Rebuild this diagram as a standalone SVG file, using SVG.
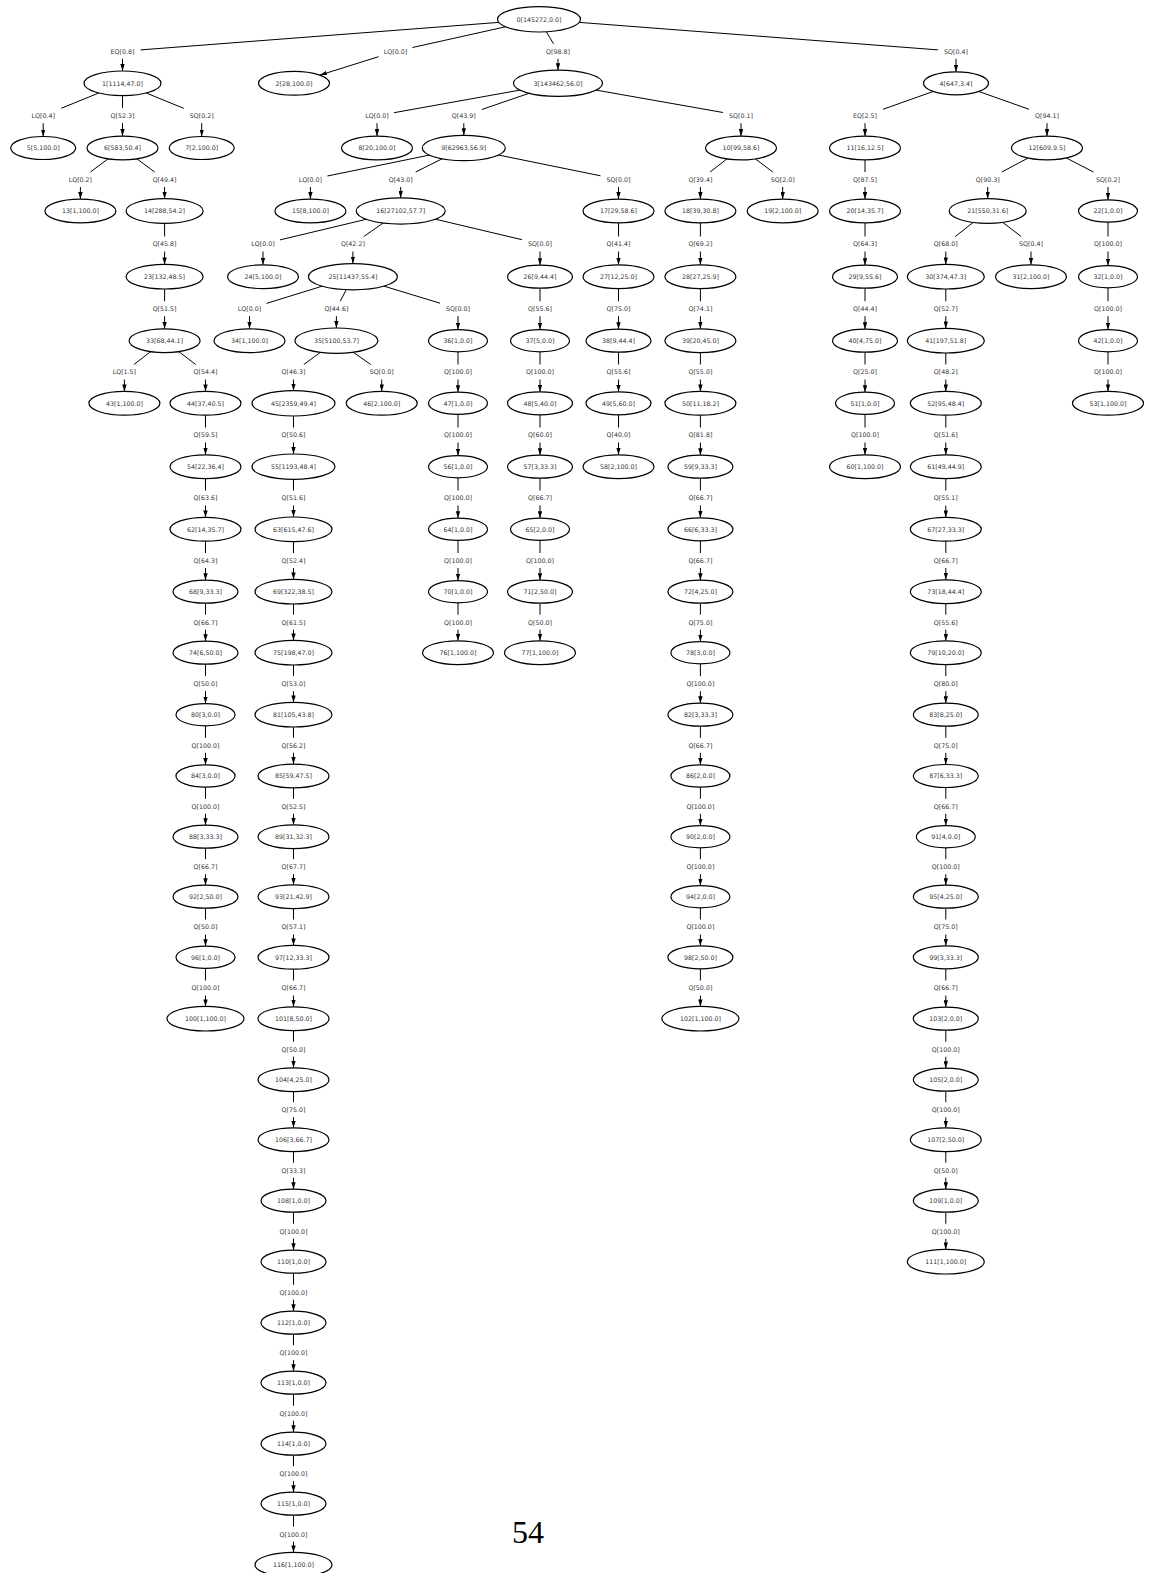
<svg xmlns="http://www.w3.org/2000/svg" width="1152" height="1573" viewBox="0 0 1152 1573">
<style>
.n ellipse{fill:#fff;stroke:#000;stroke-width:1.2}
.n text,.e text{font-family:"DejaVu Sans",sans-serif;font-size:6.3px;fill:#333;text-anchor:middle}
.e path{fill:none;stroke:#000;stroke-width:1;marker-end:url(#ah)}
.pg{font-family:"Liberation Serif","Times New Roman",serif;font-size:32px;fill:#000;text-anchor:middle}
</style>
<defs>
<marker id="ah" markerWidth="7" markerHeight="4.4" refX="7" refY="2.2" orient="auto" markerUnits="userSpaceOnUse"><path d="M0,0 L7,2.2 L0,4.4 z" fill="#000" stroke="none"/></marker>
</defs>
<rect width="1152" height="1573" fill="#fff"/>
<g id="edges" class="e">
<g id="e0-1"><path d="M498.75,22.4 L140.5,49.9 M122.5,58.8 V71"/><text x="122.5" y="53.6">EQ[0.8]</text></g>
<g id="e0-2"><path d="M505.5,26.8 L412.5,47.5 M378.5,56.7 L319.9,75.1"/><text x="395.5" y="53.6">LQ[0.0]</text></g>
<g id="e0-3"><path d="M546.4,31.8 L553.5,43.8 M558,58.8 V70.2"/><text x="558" y="53.6">Q[98.8]</text></g>
<g id="e0-4"><path d="M579.3,22.4 L938,49.9 M956,58.8 V71.8"/><text x="956" y="53.6">SQ[0.4]</text></g>
<g id="e1-5"><path d="M98.8,93 L61.2,108.3 M43.2,123.2 V136.5"/><text x="43.2" y="118">LQ[0.4]</text></g>
<g id="e1-6"><path d="M122.5,95.6 V108.2 M122.5,123.2 V136.1"/><text x="122.5" y="118">Q[52.3]</text></g>
<g id="e1-7"><path d="M146.2,93 L183.7,108.3 M201.7,123.2 V136.5"/><text x="201.7" y="118">SQ[0.2]</text></g>
<g id="e3-8"><path d="M520,90.1 L394,112.7 M377,123.2 V136.1"/><text x="377" y="118">LQ[0.0]</text></g>
<g id="e3-9"><path d="M529.1,93.3 L481.8,109.5 M463.8,123.2 V135.3"/><text x="463.8" y="118">Q[43.9]</text></g>
<g id="e3-10"><path d="M596.1,90.1 L723,112.5 M741,123.2 V136.1"/><text x="741" y="118">SQ[0.1]</text></g>
<g id="e4-11"><path d="M933.1,91.5 L883,109.3 M865,123.2 V136.1"/><text x="865" y="118">EQ[2.5]</text></g>
<g id="e4-12"><path d="M978.9,91.5 L1029,109.3 M1047,123.2 V136.1"/><text x="1047" y="118">Q[94.1]</text></g>
<g id="e6-13"><path d="M108,158.9 L90.4,172 M80.4,187 V199.1"/><text x="80.4" y="181.8">LQ[0.2]</text></g>
<g id="e6-14"><path d="M137,158.9 L154.6,172 M164.6,187 V198.7"/><text x="164.6" y="181.8">Q[49.4]</text></g>
<g id="e9-15"><path d="M429.3,155.1 L327.4,176 M310.4,187 V199.1"/><text x="310.4" y="181.8">LQ[0.0]</text></g>
<g id="e9-16"><path d="M442.1,158.8 L415.7,172 M400.7,187 V197.9"/><text x="400.7" y="181.8">Q[43.0]</text></g>
<g id="e9-17"><path d="M498.4,155 L600.5,175.8 M618.5,187 V199.1"/><text x="618.5" y="181.8">SQ[0.0]</text></g>
<g id="e10-18"><path d="M726.9,158.9 L710.1,172 M700.4,187 V199.1"/><text x="700.4" y="181.8">Q[39.4]</text></g>
<g id="e10-19"><path d="M755.4,158.9 L772.8,172 M782.7,187 V199.1"/><text x="782.7" y="181.8">SQ[2.0]</text></g>
<g id="e11-20"><path d="M865,159.9 V172 M865,187 V199.1"/><text x="865" y="181.8">Q[87.5]</text></g>
<g id="e12-21"><path d="M1028,158.1 L1001.8,172 M987.7,187 V198.7"/><text x="987.7" y="181.8">Q[90.3]</text></g>
<g id="e12-22"><path d="M1066.3,158 L1093.5,172 M1108,187 V199.9"/><text x="1108" y="181.8">SQ[0.2]</text></g>
<g id="e14-23"><path d="M164.6,223.3 V236.5 M164.6,251.5 V264.4"/><text x="164.6" y="246.3">Q[45.8]</text></g>
<g id="e16-24"><path d="M366.2,219.3 L280,239.9 M263,251.5 V264.8"/><text x="263" y="246.3">LQ[0.0]</text></g>
<g id="e16-25"><path d="M383.2,223 L363.8,236.5 M352.9,251.5 V263.6"/><text x="352.9" y="246.3">Q[42.2]</text></g>
<g id="e16-26"><path d="M435.4,219.2 L522,239.7 M540,251.5 V265.2"/><text x="540" y="246.3">SQ[0.0]</text></g>
<g id="e17-27"><path d="M618.5,222.9 V236.5 M618.5,251.5 V264.8"/><text x="618.5" y="246.3">Q[41.4]</text></g>
<g id="e18-28"><path d="M700.4,222.9 V236.5 M700.4,251.5 V264.8"/><text x="700.4" y="246.3">Q[69.2]</text></g>
<g id="e20-29"><path d="M865,222.9 V236.5 M865,251.5 V265.2"/><text x="865" y="246.3">Q[64.3]</text></g>
<g id="e21-30"><path d="M973.2,222.4 L955.3,236.5 M945.8,251.5 V264.4"/><text x="945.8" y="246.3">Q[68.0]</text></g>
<g id="e21-31"><path d="M1002.6,222.3 L1021.2,236.5 M1031,251.5 V264.8"/><text x="1031" y="246.3">SQ[0.4]</text></g>
<g id="e22-32"><path d="M1108,222.1 V236.5 M1108,251.5 V265.6"/><text x="1108" y="246.3">Q[100.0]</text></g>
<g id="e23-33"><path d="M164.6,289 V301.2 M164.6,316.2 V328.8"/><text x="164.6" y="311">Q[51.5]</text></g>
<g id="e25-34"><path d="M322.2,286.2 L266.5,303.4 M249.5,316.2 V328.8"/><text x="249.5" y="311">LQ[0.0]</text></g>
<g id="e25-35"><path d="M346.2,289.7 L340.3,301.2 M336.4,316.2 V328"/><text x="336.4" y="311">Q[44.6]</text></g>
<g id="e25-36"><path d="M383.8,286.1 L440,303.2 M458,316.2 V329.6"/><text x="458" y="311">SQ[0.0]</text></g>
<g id="e26-37"><path d="M540,288.2 V301.2 M540,316.2 V329.6"/><text x="540" y="311">Q[55.6]</text></g>
<g id="e27-38"><path d="M618.5,288.6 V301.2 M618.5,316.2 V329.2"/><text x="618.5" y="311">Q[75.0]</text></g>
<g id="e28-39"><path d="M700.4,288.6 V301.2 M700.4,316.2 V328.8"/><text x="700.4" y="311">Q[74.1]</text></g>
<g id="e29-40"><path d="M865,288.2 V301.2 M865,316.2 V329.2"/><text x="865" y="311">Q[44.4]</text></g>
<g id="e30-41"><path d="M945.8,289 V301.2 M945.8,316.2 V328.4"/><text x="945.8" y="311">Q[52.7]</text></g>
<g id="e32-42"><path d="M1108,287.8 V301.2 M1108,316.2 V329.6"/><text x="1108" y="311">Q[100.0]</text></g>
<g id="e33-43"><path d="M150.6,351.6 L134,364.5 M124.4,379.5 V391.4"/><text x="124.4" y="374.3">LQ[1.5]</text></g>
<g id="e33-44"><path d="M178.8,351.6 L195.7,364.5 M205.5,379.5 V391.4"/><text x="205.5" y="374.3">Q[54.4]</text></g>
<g id="e35-45"><path d="M320.3,352.4 L303.8,364.5 M293.5,379.5 V390.6"/><text x="293.5" y="374.3">Q[46.3]</text></g>
<g id="e35-46"><path d="M353.2,352.3 L370.8,364.5 M381.7,379.5 V391.4"/><text x="381.7" y="374.3">SQ[0.0]</text></g>
<g id="e36-47"><path d="M458,351.8 V364.5 M458,379.5 V392.2"/><text x="458" y="374.3">Q[100.0]</text></g>
<g id="e37-48"><path d="M540,351.8 V364.5 M540,379.5 V391.8"/><text x="540" y="374.3">Q[100.0]</text></g>
<g id="e38-49"><path d="M618.5,352.2 V364.5 M618.5,379.5 V391.8"/><text x="618.5" y="374.3">Q[55.6]</text></g>
<g id="e39-50"><path d="M700.4,352.6 V364.5 M700.4,379.5 V391.4"/><text x="700.4" y="374.3">Q[55.0]</text></g>
<g id="e40-51"><path d="M865,352.2 V364.5 M865,379.5 V392.2"/><text x="865" y="374.3">Q[25.0]</text></g>
<g id="e41-52"><path d="M945.8,353 V364.5 M945.8,379.5 V391.4"/><text x="945.8" y="374.3">Q[48.2]</text></g>
<g id="e42-53"><path d="M1108,351.8 V364.5 M1108,379.5 V391.4"/><text x="1108" y="374.3">Q[100.0]</text></g>
<g id="e44-54"><path d="M205.5,415.2 V427.5 M205.5,442.5 V454.8"/><text x="205.5" y="437.3">Q[59.5]</text></g>
<g id="e45-55"><path d="M293.5,416 V427.5 M293.5,442.5 V454"/><text x="293.5" y="437.3">Q[50.6]</text></g>
<g id="e47-56"><path d="M458,414.4 V427.5 M458,442.5 V455.6"/><text x="458" y="437.3">Q[100.0]</text></g>
<g id="e48-57"><path d="M540,414.8 V427.5 M540,442.5 V455.2"/><text x="540" y="437.3">Q[60.0]</text></g>
<g id="e49-58"><path d="M618.5,414.8 V427.5 M618.5,442.5 V454.8"/><text x="618.5" y="437.3">Q[40.0]</text></g>
<g id="e50-59"><path d="M700.4,415.2 V427.5 M700.4,442.5 V455.2"/><text x="700.4" y="437.3">Q[81.8]</text></g>
<g id="e51-60"><path d="M865,414.4 V427.5 M865,442.5 V454.8"/><text x="865" y="437.3">Q[100.0]</text></g>
<g id="e52-61"><path d="M945.8,415.2 V427.5 M945.8,442.5 V454.8"/><text x="945.8" y="437.3">Q[51.6]</text></g>
<g id="e54-62"><path d="M205.5,478.6 V490.5 M205.5,505.5 V517.4"/><text x="205.5" y="500.3">Q[63.6]</text></g>
<g id="e55-63"><path d="M293.5,479.4 V490.5 M293.5,505.5 V517"/><text x="293.5" y="500.3">Q[51.6]</text></g>
<g id="e56-64"><path d="M458,477.8 V490.5 M458,505.5 V518.2"/><text x="458" y="500.3">Q[100.0]</text></g>
<g id="e57-65"><path d="M540,478.2 V490.5 M540,505.5 V518.2"/><text x="540" y="500.3">Q[66.7]</text></g>
<g id="e59-66"><path d="M700.4,478.2 V490.5 M700.4,505.5 V517.8"/><text x="700.4" y="500.3">Q[66.7]</text></g>
<g id="e61-67"><path d="M945.8,478.6 V490.5 M945.8,505.5 V517.4"/><text x="945.8" y="500.3">Q[55.1]</text></g>
<g id="e62-68"><path d="M205.5,541.2 V553 M205.5,568 V580.2"/><text x="205.5" y="562.8">Q[64.3]</text></g>
<g id="e63-69"><path d="M293.5,541.6 V553 M293.5,568 V579.4"/><text x="293.5" y="562.8">Q[52.4]</text></g>
<g id="e64-70"><path d="M458,540.4 V553 M458,568 V580.6"/><text x="458" y="562.8">Q[100.0]</text></g>
<g id="e65-71"><path d="M540,540.4 V553 M540,568 V580.2"/><text x="540" y="562.8">Q[100.0]</text></g>
<g id="e66-72"><path d="M700.4,540.8 V553 M700.4,568 V580.2"/><text x="700.4" y="562.8">Q[66.7]</text></g>
<g id="e67-73"><path d="M945.8,541.2 V553 M945.8,568 V579.8"/><text x="945.8" y="562.8">Q[66.7]</text></g>
<g id="e68-74"><path d="M205.5,603.2 V614.7 M205.5,629.7 V641.2"/><text x="205.5" y="624.5">Q[66.7]</text></g>
<g id="e69-75"><path d="M293.5,604 V614.7 M293.5,629.7 V640.4"/><text x="293.5" y="624.5">Q[61.5]</text></g>
<g id="e70-76"><path d="M458,602.8 V614.7 M458,629.7 V640.8"/><text x="458" y="624.5">Q[100.0]</text></g>
<g id="e71-77"><path d="M540,603.2 V614.7 M540,629.7 V640.8"/><text x="540" y="624.5">Q[50.0]</text></g>
<g id="e72-78"><path d="M700.4,603.2 V614.7 M700.4,629.7 V641.6"/><text x="700.4" y="624.5">Q[75.0]</text></g>
<g id="e73-79"><path d="M945.8,603.6 V614.7 M945.8,629.7 V640.8"/><text x="945.8" y="624.5">Q[55.6]</text></g>
<g id="e74-80"><path d="M205.5,664.2 V676.2 M205.5,691.2 V703.6"/><text x="205.5" y="686">Q[50.0]</text></g>
<g id="e75-81"><path d="M293.5,665 V676.2 M293.5,691.2 V702.4"/><text x="293.5" y="686">Q[53.0]</text></g>
<g id="e78-82"><path d="M700.4,663.8 V676.2 M700.4,691.2 V703.2"/><text x="700.4" y="686">Q[100.0]</text></g>
<g id="e79-83"><path d="M945.8,664.6 V676.2 M945.8,691.2 V703.2"/><text x="945.8" y="686">Q[80.0]</text></g>
<g id="e80-84"><path d="M205.5,725.8 V737.8 M205.5,752.8 V764.9"/><text x="205.5" y="747.6">Q[100.0]</text></g>
<g id="e81-85"><path d="M293.5,727 V737.8 M293.5,752.8 V764.1"/><text x="293.5" y="747.6">Q[56.2]</text></g>
<g id="e82-86"><path d="M700.4,726.2 V737.8 M700.4,752.8 V764.9"/><text x="700.4" y="747.6">Q[66.7]</text></g>
<g id="e83-87"><path d="M945.8,726.2 V737.8 M945.8,752.8 V764.5"/><text x="945.8" y="747.6">Q[75.0]</text></g>
<g id="e84-88"><path d="M205.5,787.1 V798.8 M205.5,813.8 V825.2"/><text x="205.5" y="808.6">Q[100.0]</text></g>
<g id="e85-89"><path d="M293.5,787.9 V798.8 M293.5,813.8 V824.8"/><text x="293.5" y="808.6">Q[52.5]</text></g>
<g id="e86-90"><path d="M700.4,787.1 V798.8 M700.4,813.8 V825.6"/><text x="700.4" y="808.6">Q[100.0]</text></g>
<g id="e87-91"><path d="M945.8,787.5 V798.8 M945.8,813.8 V825.6"/><text x="945.8" y="808.6">Q[66.7]</text></g>
<g id="e88-92"><path d="M205.5,848.2 V859.2 M205.5,874.2 V885.2"/><text x="205.5" y="869">Q[66.7]</text></g>
<g id="e89-93"><path d="M293.5,848.6 V859.2 M293.5,874.2 V884.8"/><text x="293.5" y="869">Q[67.7]</text></g>
<g id="e90-94"><path d="M700.4,847.8 V859.2 M700.4,874.2 V885.6"/><text x="700.4" y="869">Q[100.0]</text></g>
<g id="e91-95"><path d="M945.8,847.8 V859.2 M945.8,874.2 V885.2"/><text x="945.8" y="869">Q[100.0]</text></g>
<g id="e92-96"><path d="M205.5,908.2 V919.5 M205.5,934.5 V946.2"/><text x="205.5" y="929.3">Q[50.0]</text></g>
<g id="e93-97"><path d="M293.5,908.6 V919.5 M293.5,934.5 V945.4"/><text x="293.5" y="929.3">Q[57.1]</text></g>
<g id="e94-98"><path d="M700.4,907.8 V919.5 M700.4,934.5 V945.8"/><text x="700.4" y="929.3">Q[100.0]</text></g>
<g id="e95-99"><path d="M945.8,908.2 V919.5 M945.8,934.5 V945.8"/><text x="945.8" y="929.3">Q[75.0]</text></g>
<g id="e96-100"><path d="M205.5,968.4 V980.5 M205.5,995.5 V1006.4"/><text x="205.5" y="990.3">Q[100.0]</text></g>
<g id="e97-101"><path d="M293.5,969.2 V980.5 M293.5,995.5 V1006.8"/><text x="293.5" y="990.3">Q[66.7]</text></g>
<g id="e98-102"><path d="M700.4,968.8 V980.5 M700.4,995.5 V1006.4"/><text x="700.4" y="990.3">Q[50.0]</text></g>
<g id="e99-103"><path d="M945.8,968.8 V980.5 M945.8,995.5 V1007.2"/><text x="945.8" y="990.3">Q[66.7]</text></g>
<g id="e101-104"><path d="M293.5,1030.6 V1041.7 M293.5,1056.7 V1067.8"/><text x="293.5" y="1051.5">Q[50.0]</text></g>
<g id="e103-105"><path d="M945.8,1030.2 V1041.7 M945.8,1056.7 V1068.2"/><text x="945.8" y="1051.5">Q[100.0]</text></g>
<g id="e104-106"><path d="M293.5,1091.6 V1102.2 M293.5,1117.2 V1127.8"/><text x="293.5" y="1112">Q[75.0]</text></g>
<g id="e105-107"><path d="M945.8,1091.2 V1102.2 M945.8,1117.2 V1127.8"/><text x="945.8" y="1112">Q[100.0]</text></g>
<g id="e106-108"><path d="M293.5,1151.6 V1162.7 M293.5,1177.7 V1189.2"/><text x="293.5" y="1172.5">Q[33.3]</text></g>
<g id="e107-109"><path d="M945.8,1151.6 V1162.7 M945.8,1177.7 V1189.2"/><text x="945.8" y="1172.5">Q[50.0]</text></g>
<g id="e108-110"><path d="M293.5,1212.2 V1223.7 M293.5,1238.7 V1250.2"/><text x="293.5" y="1233.5">Q[100.0]</text></g>
<g id="e109-111"><path d="M945.8,1212.2 V1223.7 M945.8,1238.7 V1249.4"/><text x="945.8" y="1233.5">Q[100.0]</text></g>
<g id="e110-112"><path d="M293.5,1273.2 V1284.7 M293.5,1299.7 V1311.2"/><text x="293.5" y="1294.5">Q[100.0]</text></g>
<g id="e112-113"><path d="M293.5,1334.2 V1345.2 M293.5,1360.2 V1371.2"/><text x="293.5" y="1355">Q[100.0]</text></g>
<g id="e113-114"><path d="M293.5,1394.2 V1405.7 M293.5,1420.7 V1432.2"/><text x="293.5" y="1415.5">Q[100.0]</text></g>
<g id="e114-115"><path d="M293.5,1455.2 V1466.2 M293.5,1481.2 V1492.2"/><text x="293.5" y="1476">Q[100.0]</text></g>
<g id="e115-116"><path d="M293.5,1515.2 V1526.7 M293.5,1541.7 V1552.4"/><text x="293.5" y="1536.5">Q[100.0]</text></g>
</g>
<g id="nodes" class="n">
<g id="n0"><ellipse cx="539" cy="19.3" rx="41.5" ry="12.7"/><text x="539" y="21.6">0[145272,0.0]</text></g>
<g id="n1"><ellipse cx="122.5" cy="83.3" rx="38.5" ry="12.3"/><text x="122.5" y="85.6">1[1114,47.0]</text></g>
<g id="n2"><ellipse cx="294" cy="83.3" rx="35.5" ry="11.9"/><text x="294" y="85.6">2[28,100.0]</text></g>
<g id="n3"><ellipse cx="558" cy="83.3" rx="44.5" ry="13.1"/><text x="558" y="85.6">3[143462,56.0]</text></g>
<g id="n4"><ellipse cx="956" cy="83.3" rx="32.5" ry="11.5"/><text x="956" y="85.6">4[647,3.4]</text></g>
<g id="n5"><ellipse cx="43.2" cy="148" rx="32.5" ry="11.5"/><text x="43.2" y="150.3">5[5,100.0]</text></g>
<g id="n6"><ellipse cx="122.5" cy="148" rx="35.5" ry="11.9"/><text x="122.5" y="150.3">6[583,50.4]</text></g>
<g id="n7"><ellipse cx="201.7" cy="148" rx="32.5" ry="11.5"/><text x="201.7" y="150.3">7[2,100.0]</text></g>
<g id="n8"><ellipse cx="377" cy="148" rx="35.5" ry="11.9"/><text x="377" y="150.3">8[20,100.0]</text></g>
<g id="n9"><ellipse cx="463.8" cy="148" rx="41.5" ry="12.7"/><text x="463.8" y="150.3">9[62963,56.9]</text></g>
<g id="n10"><ellipse cx="741" cy="148" rx="35.5" ry="11.9"/><text x="741" y="150.3">10[99,58.6]</text></g>
<g id="n11"><ellipse cx="865" cy="148" rx="35.5" ry="11.9"/><text x="865" y="150.3">11[16,12.5]</text></g>
<g id="n12"><ellipse cx="1047" cy="148" rx="35.5" ry="11.9"/><text x="1047" y="150.3">12[609,9.5]</text></g>
<g id="n13"><ellipse cx="80.4" cy="211" rx="35.5" ry="11.9"/><text x="80.4" y="213.3">13[1,100.0]</text></g>
<g id="n14"><ellipse cx="164.6" cy="211" rx="38.5" ry="12.3"/><text x="164.6" y="213.3">14[288,54.2]</text></g>
<g id="n15"><ellipse cx="310.4" cy="211" rx="35.5" ry="11.9"/><text x="310.4" y="213.3">15[8,100.0]</text></g>
<g id="n16"><ellipse cx="400.7" cy="211" rx="44.5" ry="13.1"/><text x="400.7" y="213.3">16[27102,57.7]</text></g>
<g id="n17"><ellipse cx="618.5" cy="211" rx="35.5" ry="11.9"/><text x="618.5" y="213.3">17[29,58.6]</text></g>
<g id="n18"><ellipse cx="700.4" cy="211" rx="35.5" ry="11.9"/><text x="700.4" y="213.3">18[39,30.8]</text></g>
<g id="n19"><ellipse cx="782.7" cy="211" rx="35.5" ry="11.9"/><text x="782.7" y="213.3">19[2,100.0]</text></g>
<g id="n20"><ellipse cx="865" cy="211" rx="35.5" ry="11.9"/><text x="865" y="213.3">20[14,35.7]</text></g>
<g id="n21"><ellipse cx="987.7" cy="211" rx="38.5" ry="12.3"/><text x="987.7" y="213.3">21[550,31.6]</text></g>
<g id="n22"><ellipse cx="1108" cy="211" rx="29.5" ry="11.1"/><text x="1108" y="213.3">22[1,0.0]</text></g>
<g id="n23"><ellipse cx="164.6" cy="276.7" rx="38.5" ry="12.3"/><text x="164.6" y="279">23[132,48.5]</text></g>
<g id="n24"><ellipse cx="263" cy="276.7" rx="35.5" ry="11.9"/><text x="263" y="279">24[5,100.0]</text></g>
<g id="n25"><ellipse cx="352.9" cy="276.7" rx="44.5" ry="13.1"/><text x="352.9" y="279">25[11437,55.4]</text></g>
<g id="n26"><ellipse cx="540" cy="276.7" rx="32.5" ry="11.5"/><text x="540" y="279">26[9,44.4]</text></g>
<g id="n27"><ellipse cx="618.5" cy="276.7" rx="35.5" ry="11.9"/><text x="618.5" y="279">27[12,25.0]</text></g>
<g id="n28"><ellipse cx="700.4" cy="276.7" rx="35.5" ry="11.9"/><text x="700.4" y="279">28[27,25.9]</text></g>
<g id="n29"><ellipse cx="865" cy="276.7" rx="32.5" ry="11.5"/><text x="865" y="279">29[9,55.6]</text></g>
<g id="n30"><ellipse cx="945.8" cy="276.7" rx="38.5" ry="12.3"/><text x="945.8" y="279">30[374,47.3]</text></g>
<g id="n31"><ellipse cx="1031" cy="276.7" rx="35.5" ry="11.9"/><text x="1031" y="279">31[2,100.0]</text></g>
<g id="n32"><ellipse cx="1108" cy="276.7" rx="29.5" ry="11.1"/><text x="1108" y="279">32[1,0.0]</text></g>
<g id="n33"><ellipse cx="164.6" cy="340.7" rx="35.5" ry="11.9"/><text x="164.6" y="343">33[68,44.1]</text></g>
<g id="n34"><ellipse cx="249.5" cy="340.7" rx="35.5" ry="11.9"/><text x="249.5" y="343">34[1,100.0]</text></g>
<g id="n35"><ellipse cx="336.4" cy="340.7" rx="41.5" ry="12.7"/><text x="336.4" y="343">35[5100,53.7]</text></g>
<g id="n36"><ellipse cx="458" cy="340.7" rx="29.5" ry="11.1"/><text x="458" y="343">36[1,0.0]</text></g>
<g id="n37"><ellipse cx="540" cy="340.7" rx="29.5" ry="11.1"/><text x="540" y="343">37[5,0.0]</text></g>
<g id="n38"><ellipse cx="618.5" cy="340.7" rx="32.5" ry="11.5"/><text x="618.5" y="343">38[9,44.4]</text></g>
<g id="n39"><ellipse cx="700.4" cy="340.7" rx="35.5" ry="11.9"/><text x="700.4" y="343">39[20,45.0]</text></g>
<g id="n40"><ellipse cx="865" cy="340.7" rx="32.5" ry="11.5"/><text x="865" y="343">40[4,75.0]</text></g>
<g id="n41"><ellipse cx="945.8" cy="340.7" rx="38.5" ry="12.3"/><text x="945.8" y="343">41[197,51.8]</text></g>
<g id="n42"><ellipse cx="1108" cy="340.7" rx="29.5" ry="11.1"/><text x="1108" y="343">42[1,0.0]</text></g>
<g id="n43"><ellipse cx="124.4" cy="403.3" rx="35.5" ry="11.9"/><text x="124.4" y="405.6">43[1,100.0]</text></g>
<g id="n44"><ellipse cx="205.5" cy="403.3" rx="35.5" ry="11.9"/><text x="205.5" y="405.6">44[37,40.5]</text></g>
<g id="n45"><ellipse cx="293.5" cy="403.3" rx="41.5" ry="12.7"/><text x="293.5" y="405.6">45[2359,49.4]</text></g>
<g id="n46"><ellipse cx="381.7" cy="403.3" rx="35.5" ry="11.9"/><text x="381.7" y="405.6">46[2,100.0]</text></g>
<g id="n47"><ellipse cx="458" cy="403.3" rx="29.5" ry="11.1"/><text x="458" y="405.6">47[1,0.0]</text></g>
<g id="n48"><ellipse cx="540" cy="403.3" rx="32.5" ry="11.5"/><text x="540" y="405.6">48[5,40.0]</text></g>
<g id="n49"><ellipse cx="618.5" cy="403.3" rx="32.5" ry="11.5"/><text x="618.5" y="405.6">49[5,60.0]</text></g>
<g id="n50"><ellipse cx="700.4" cy="403.3" rx="35.5" ry="11.9"/><text x="700.4" y="405.6">50[11,18.2]</text></g>
<g id="n51"><ellipse cx="865" cy="403.3" rx="29.5" ry="11.1"/><text x="865" y="405.6">51[1,0.0]</text></g>
<g id="n52"><ellipse cx="945.8" cy="403.3" rx="35.5" ry="11.9"/><text x="945.8" y="405.6">52[95,48.4]</text></g>
<g id="n53"><ellipse cx="1108" cy="403.3" rx="35.5" ry="11.9"/><text x="1108" y="405.6">53[1,100.0]</text></g>
<g id="n54"><ellipse cx="205.5" cy="466.7" rx="35.5" ry="11.9"/><text x="205.5" y="469">54[22,36.4]</text></g>
<g id="n55"><ellipse cx="293.5" cy="466.7" rx="41.5" ry="12.7"/><text x="293.5" y="469">55[1193,48.4]</text></g>
<g id="n56"><ellipse cx="458" cy="466.7" rx="29.5" ry="11.1"/><text x="458" y="469">56[1,0.0]</text></g>
<g id="n57"><ellipse cx="540" cy="466.7" rx="32.5" ry="11.5"/><text x="540" y="469">57[3,33.3]</text></g>
<g id="n58"><ellipse cx="618.5" cy="466.7" rx="35.5" ry="11.9"/><text x="618.5" y="469">58[2,100.0]</text></g>
<g id="n59"><ellipse cx="700.4" cy="466.7" rx="32.5" ry="11.5"/><text x="700.4" y="469">59[9,33.3]</text></g>
<g id="n60"><ellipse cx="865" cy="466.7" rx="35.5" ry="11.9"/><text x="865" y="469">60[1,100.0]</text></g>
<g id="n61"><ellipse cx="945.8" cy="466.7" rx="35.5" ry="11.9"/><text x="945.8" y="469">61[49,44.9]</text></g>
<g id="n62"><ellipse cx="205.5" cy="529.3" rx="35.5" ry="11.9"/><text x="205.5" y="531.6">62[14,35.7]</text></g>
<g id="n63"><ellipse cx="293.5" cy="529.3" rx="38.5" ry="12.3"/><text x="293.5" y="531.6">63[615,47.6]</text></g>
<g id="n64"><ellipse cx="458" cy="529.3" rx="29.5" ry="11.1"/><text x="458" y="531.6">64[1,0.0]</text></g>
<g id="n65"><ellipse cx="540" cy="529.3" rx="29.5" ry="11.1"/><text x="540" y="531.6">65[2,0.0]</text></g>
<g id="n66"><ellipse cx="700.4" cy="529.3" rx="32.5" ry="11.5"/><text x="700.4" y="531.6">66[6,33.3]</text></g>
<g id="n67"><ellipse cx="945.8" cy="529.3" rx="35.5" ry="11.9"/><text x="945.8" y="531.6">67[27,33.3]</text></g>
<g id="n68"><ellipse cx="205.5" cy="591.7" rx="32.5" ry="11.5"/><text x="205.5" y="594">68[9,33.3]</text></g>
<g id="n69"><ellipse cx="293.5" cy="591.7" rx="38.5" ry="12.3"/><text x="293.5" y="594">69[322,38.5]</text></g>
<g id="n70"><ellipse cx="458" cy="591.7" rx="29.5" ry="11.1"/><text x="458" y="594">70[1,0.0]</text></g>
<g id="n71"><ellipse cx="540" cy="591.7" rx="32.5" ry="11.5"/><text x="540" y="594">71[2,50.0]</text></g>
<g id="n72"><ellipse cx="700.4" cy="591.7" rx="32.5" ry="11.5"/><text x="700.4" y="594">72[4,25.0]</text></g>
<g id="n73"><ellipse cx="945.8" cy="591.7" rx="35.5" ry="11.9"/><text x="945.8" y="594">73[18,44.4]</text></g>
<g id="n74"><ellipse cx="205.5" cy="652.7" rx="32.5" ry="11.5"/><text x="205.5" y="655">74[6,50.0]</text></g>
<g id="n75"><ellipse cx="293.5" cy="652.7" rx="38.5" ry="12.3"/><text x="293.5" y="655">75[198,47.0]</text></g>
<g id="n76"><ellipse cx="458" cy="652.7" rx="35.5" ry="11.9"/><text x="458" y="655">76[1,100.0]</text></g>
<g id="n77"><ellipse cx="540" cy="652.7" rx="35.5" ry="11.9"/><text x="540" y="655">77[1,100.0]</text></g>
<g id="n78"><ellipse cx="700.4" cy="652.7" rx="29.5" ry="11.1"/><text x="700.4" y="655">78[3,0.0]</text></g>
<g id="n79"><ellipse cx="945.8" cy="652.7" rx="35.5" ry="11.9"/><text x="945.8" y="655">79[10,20.0]</text></g>
<g id="n80"><ellipse cx="205.5" cy="714.7" rx="29.5" ry="11.1"/><text x="205.5" y="717">80[3,0.0]</text></g>
<g id="n81"><ellipse cx="293.5" cy="714.7" rx="38.5" ry="12.3"/><text x="293.5" y="717">81[105,43.8]</text></g>
<g id="n82"><ellipse cx="700.4" cy="714.7" rx="32.5" ry="11.5"/><text x="700.4" y="717">82[3,33.3]</text></g>
<g id="n83"><ellipse cx="945.8" cy="714.7" rx="32.5" ry="11.5"/><text x="945.8" y="717">83[8,25.0]</text></g>
<g id="n84"><ellipse cx="205.5" cy="776" rx="29.5" ry="11.1"/><text x="205.5" y="778.3">84[3,0.0]</text></g>
<g id="n85"><ellipse cx="293.5" cy="776" rx="35.5" ry="11.9"/><text x="293.5" y="778.3">85[59,47.5]</text></g>
<g id="n86"><ellipse cx="700.4" cy="776" rx="29.5" ry="11.1"/><text x="700.4" y="778.3">86[2,0.0]</text></g>
<g id="n87"><ellipse cx="945.8" cy="776" rx="32.5" ry="11.5"/><text x="945.8" y="778.3">87[6,33.3]</text></g>
<g id="n88"><ellipse cx="205.5" cy="836.7" rx="32.5" ry="11.5"/><text x="205.5" y="839">88[3,33.3]</text></g>
<g id="n89"><ellipse cx="293.5" cy="836.7" rx="35.5" ry="11.9"/><text x="293.5" y="839">89[31,32.3]</text></g>
<g id="n90"><ellipse cx="700.4" cy="836.7" rx="29.5" ry="11.1"/><text x="700.4" y="839">90[2,0.0]</text></g>
<g id="n91"><ellipse cx="945.8" cy="836.7" rx="29.5" ry="11.1"/><text x="945.8" y="839">91[4,0.0]</text></g>
<g id="n92"><ellipse cx="205.5" cy="896.7" rx="32.5" ry="11.5"/><text x="205.5" y="899">92[2,50.0]</text></g>
<g id="n93"><ellipse cx="293.5" cy="896.7" rx="35.5" ry="11.9"/><text x="293.5" y="899">93[21,42.9]</text></g>
<g id="n94"><ellipse cx="700.4" cy="896.7" rx="29.5" ry="11.1"/><text x="700.4" y="899">94[2,0.0]</text></g>
<g id="n95"><ellipse cx="945.8" cy="896.7" rx="32.5" ry="11.5"/><text x="945.8" y="899">95[4,25.0]</text></g>
<g id="n96"><ellipse cx="205.5" cy="957.3" rx="29.5" ry="11.1"/><text x="205.5" y="959.6">96[1,0.0]</text></g>
<g id="n97"><ellipse cx="293.5" cy="957.3" rx="35.5" ry="11.9"/><text x="293.5" y="959.6">97[12,33.3]</text></g>
<g id="n98"><ellipse cx="700.4" cy="957.3" rx="32.5" ry="11.5"/><text x="700.4" y="959.6">98[2,50.0]</text></g>
<g id="n99"><ellipse cx="945.8" cy="957.3" rx="32.5" ry="11.5"/><text x="945.8" y="959.6">99[3,33.3]</text></g>
<g id="n100"><ellipse cx="205.5" cy="1018.7" rx="38.5" ry="12.3"/><text x="205.5" y="1021">100[1,100.0]</text></g>
<g id="n101"><ellipse cx="293.5" cy="1018.7" rx="35.5" ry="11.9"/><text x="293.5" y="1021">101[8,50.0]</text></g>
<g id="n102"><ellipse cx="700.4" cy="1018.7" rx="38.5" ry="12.3"/><text x="700.4" y="1021">102[1,100.0]</text></g>
<g id="n103"><ellipse cx="945.8" cy="1018.7" rx="32.5" ry="11.5"/><text x="945.8" y="1021">103[2,0.0]</text></g>
<g id="n104"><ellipse cx="293.5" cy="1079.7" rx="35.5" ry="11.9"/><text x="293.5" y="1082">104[4,25.0]</text></g>
<g id="n105"><ellipse cx="945.8" cy="1079.7" rx="32.5" ry="11.5"/><text x="945.8" y="1082">105[2,0.0]</text></g>
<g id="n106"><ellipse cx="293.5" cy="1139.7" rx="35.5" ry="11.9"/><text x="293.5" y="1142">106[3,66.7]</text></g>
<g id="n107"><ellipse cx="945.8" cy="1139.7" rx="35.5" ry="11.9"/><text x="945.8" y="1142">107[2,50.0]</text></g>
<g id="n108"><ellipse cx="293.5" cy="1200.7" rx="32.5" ry="11.5"/><text x="293.5" y="1203">108[1,0.0]</text></g>
<g id="n109"><ellipse cx="945.8" cy="1200.7" rx="32.5" ry="11.5"/><text x="945.8" y="1203">109[1,0.0]</text></g>
<g id="n110"><ellipse cx="293.5" cy="1261.7" rx="32.5" ry="11.5"/><text x="293.5" y="1264">110[1,0.0]</text></g>
<g id="n111"><ellipse cx="945.8" cy="1261.7" rx="38.5" ry="12.3"/><text x="945.8" y="1264">111[1,100.0]</text></g>
<g id="n112"><ellipse cx="293.5" cy="1322.7" rx="32.5" ry="11.5"/><text x="293.5" y="1325">112[1,0.0]</text></g>
<g id="n113"><ellipse cx="293.5" cy="1382.7" rx="32.5" ry="11.5"/><text x="293.5" y="1385">113[1,0.0]</text></g>
<g id="n114"><ellipse cx="293.5" cy="1443.7" rx="32.5" ry="11.5"/><text x="293.5" y="1446">114[1,0.0]</text></g>
<g id="n115"><ellipse cx="293.5" cy="1503.7" rx="32.5" ry="11.5"/><text x="293.5" y="1506">115[1,0.0]</text></g>
<g id="n116"><ellipse cx="293.5" cy="1564.7" rx="38.5" ry="12.3"/><text x="293.5" y="1567">116[1,100.0]</text></g>
</g>
<text class="pg" x="528" y="1543">54</text>
</svg>
